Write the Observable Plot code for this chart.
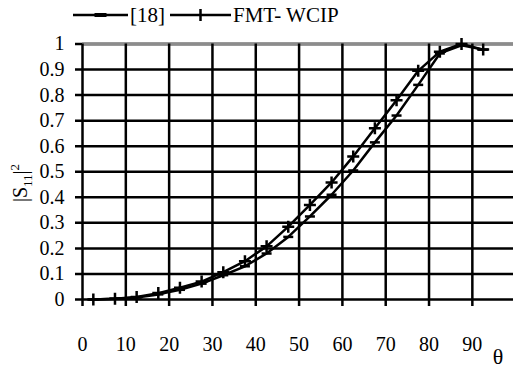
<!DOCTYPE html>
<html>
<head>
<meta charset="utf-8">
<script src="https://cdn.jsdelivr.net/npm/d3@7"></script>
<script src="https://cdn.jsdelivr.net/npm/@observablehq/plot@0.6"></script>
</head>
<body style="margin:0;padding:0;background:#fff">
<div id="wrap" style="position:relative;width:513px;height:369px;color:#000;font-family:'Liberation Serif',serif">
  <div id="legend" style="position:relative;height:30px"></div>
  <div id="chart"></div>
  <div id="ytitle" style="position:absolute;left:21px;top:183px;transform:translate(-50%,-50%) rotate(-90deg);font-family:'Liberation Serif',serif;font-size:20px;white-space:nowrap;line-height:1">|S<sub style="font-size:13px;font-family:'Liberation Serif',serif">11</sub>|<sup style="font-size:13px;font-family:'Liberation Serif',serif">2</sup></div>
  <div id="xtitle" style="position:absolute;left:498px;top:357px;transform:translate(-50%,-50%);font-family:'Liberation Serif',serif;font-size:22px;line-height:1">θ</div>
</div>
<script>
// ---- data ----
const theta = [2.5, 7.5, 12.5, 17.5, 22.5, 27.5, 32.5, 37.5, 42.5, 47.5, 52.5, 57.5, 62.5, 67.5, 72.5, 77.5, 82.5, 87.5, 92.5];
const ref18 = [0, 0.003, 0.008, 0.02, 0.038, 0.062, 0.095, 0.13, 0.18, 0.245, 0.325, 0.41, 0.505, 0.615, 0.72, 0.84, 0.963, 0.995, 0.978];
const fmtWcip = [0, 0.003, 0.01, 0.025, 0.046, 0.07, 0.107, 0.15, 0.208, 0.285, 0.37, 0.458, 0.56, 0.67, 0.78, 0.895, 0.97, 1.0, 0.978];
const seriesNames = ["[18]", "FMT- WCIP"];
const xTicks = [0, 10, 20, 30, 40, 50, 60, 70, 80, 90];
const yTicks = [0, 0.1, 0.2, 0.3, 0.4, 0.5, 0.6, 0.7, 0.8, 0.9, 1];

const rows18 = theta.map((t, i) => ({theta: t, v: ref18[i]}));
const rowsFmt = theta.map((t, i) => ({theta: t, v: fmtWcip[i]}));

// custom marker symbols
const dashSymbol = {draw(ctx, size) { const r = Math.sqrt(size / Math.PI); ctx.moveTo(-r, 0); ctx.lineTo(r, 0); }};
const plusSymbol = {draw(ctx, size) { const r = Math.sqrt(size / Math.PI); ctx.moveTo(-r, 0); ctx.lineTo(r, 0); ctx.moveTo(0, -r); ctx.lineTo(0, r); }};

const chart = Plot.plot({
  width: 513,
  height: 339,
  marginLeft: 82,
  marginRight: 0,
  marginTop: 13.5,
  marginBottom: 70,
  style: {fontFamily: "'Liberation Serif', serif", fontSize: "20px", background: "white", color: "black"},
  x: {domain: [0, 99.5], ticks: xTicks, tickSize: 0, tickPadding: 37, label: null, tickFormat: d => String(d)},
  y: {domain: [0, 1], ticks: yTicks, tickSize: 0, tickPadding: 18, label: null, tickFormat: d => String(d)},
  marks: [
    Plot.ruleY(yTicks, {stroke: "black", strokeWidth: 2.5, insetLeft: -7}),
    Plot.ruleY([1], {stroke: "#8c8c8c", strokeWidth: 3.5}),
    Plot.ruleX(xTicks, {stroke: "black", strokeWidth: 2.5, insetBottom: -7}),
    Plot.line(rows18, {x: "theta", y: "v", stroke: "black", strokeWidth: 2.5}),
    Plot.dot(rows18, {x: "theta", y: "v", symbol: dashSymbol, r: 5, stroke: "black", strokeWidth: 2.5, fill: "none"}),
    Plot.line(rowsFmt, {x: "theta", y: "v", stroke: "black", strokeWidth: 2.5}),
    Plot.dot(rowsFmt, {x: "theta", y: "v", symbol: plusSymbol, r: 6, stroke: "black", strokeWidth: 2.5, fill: "none"})
  ]
});
document.getElementById("chart").appendChild(chart);

// legend
const legend = document.getElementById("legend");
const legendItems = [
  {name: seriesNames[0], left: 73, width: 55, marker: "dash"},
  {name: seriesNames[1], left: 170, width: 61, marker: "plus"}
];
for (const it of legendItems) {
  const el = document.createElement("div");
  el.style.cssText = `position:absolute;top:0;left:${it.left}px;height:30px;display:flex;align-items:center;font-size:21px;font-family:'Liberation Serif',serif`;
  const m = it.width / 2;
  const markerPath = it.marker === "dash"
    ? `<line x1="${m - 6}" y1="15" x2="${m + 6}" y2="15" stroke="black" stroke-width="4"/>`
    : `<line x1="${m}" y1="9" x2="${m}" y2="21" stroke="black" stroke-width="2.5"/>`;
  el.innerHTML = `<svg width="${it.width}" height="30" style="display:block"><line x1="0" y1="15" x2="${it.width}" y2="15" stroke="black" stroke-width="2.5"/>${markerPath}</svg><span style="margin-left:2px;font-family:'Liberation Serif',serif">${it.name}</span>`;
  legend.appendChild(el);
}
</script>
</body>
</html>
